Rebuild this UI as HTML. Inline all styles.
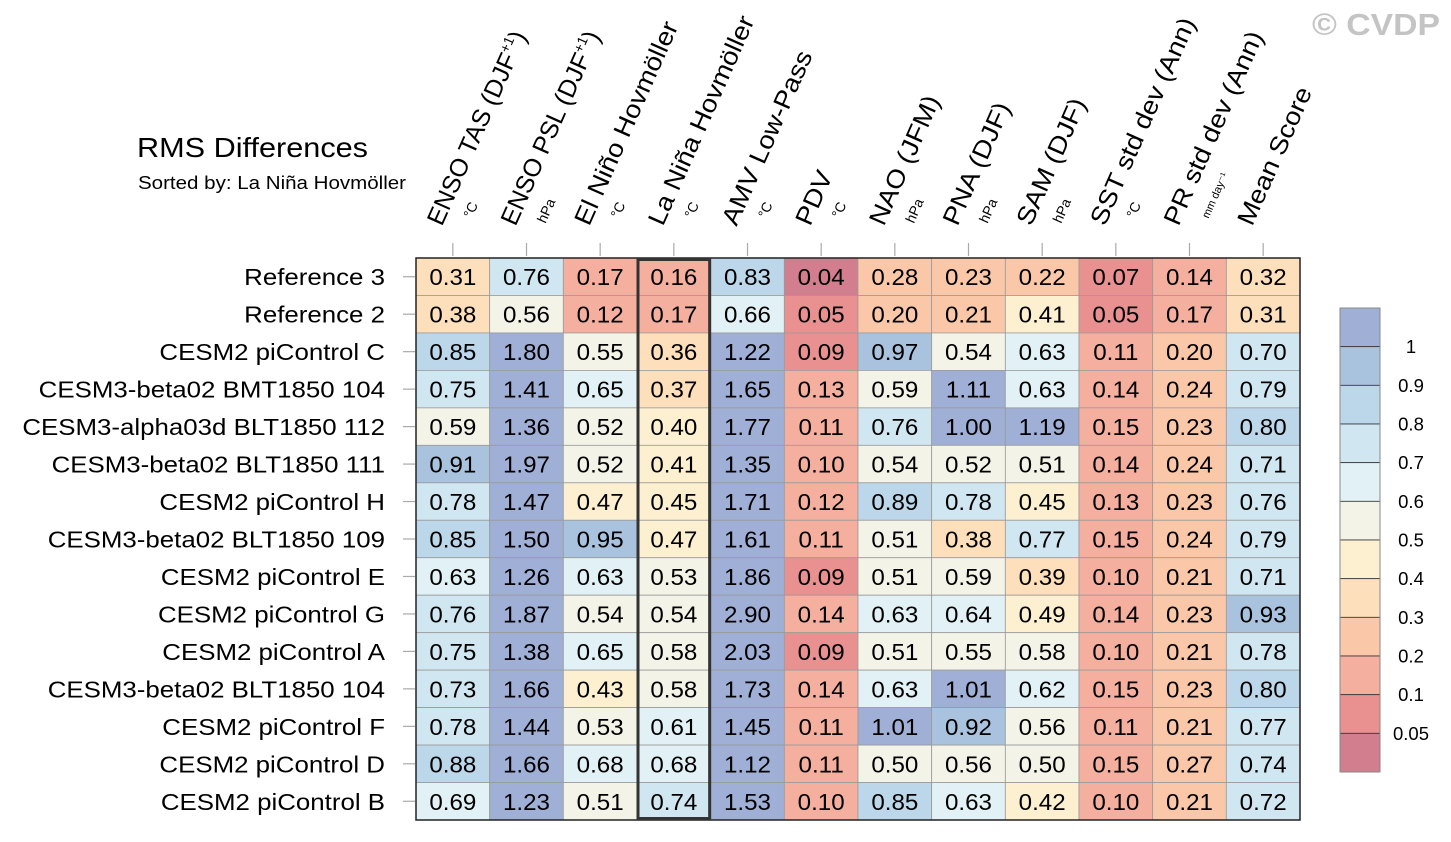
<!DOCTYPE html>
<html><head><meta charset="utf-8"><style>
html,body{margin:0;padding:0;background:#fff;}
svg{display:block;font-family:"Liberation Sans",Arial,sans-serif;}
</style></head><body>
<svg id="chart" width="1451" height="842" viewBox="0 0 1451 842">
<text x="1312" y="35" font-size="31" font-weight="bold" fill="#c4c4c4" textLength="128" lengthAdjust="spacingAndGlyphs">© CVDP</text>
<text x="137" y="157" font-size="28" fill="#000" textLength="231" lengthAdjust="spacingAndGlyphs">RMS Differences</text>
<text x="138" y="189" font-size="18" fill="#000" textLength="268" lengthAdjust="spacingAndGlyphs">Sorted by: La Niña Hovmöller</text>
<g id="cells"></g><g id="heads"></g><g id="rowlabels"></g><g id="cbar"></g>
</svg>
<script>
const columns=["ENSO TAS (DJF+1)","ENSO PSL (DJF+1)","El Niño Hovmöller","La Niña Hovmöller","AMV Low-Pass","PDV","NAO (JFM)","PNA (DJF)","SAM (DJF)","SST std dev (Ann)","PR std dev (Ann)","Mean Score"];
const units=["°C","hPa","°C","°C","°C","°C","hPa","hPa","hPa","°C","mm day⁻¹",""];
const rows=["Reference 3","Reference 2","CESM2 piControl C","CESM3-beta02 BMT1850 104","CESM3-alpha03d BLT1850 112","CESM3-beta02 BLT1850 111","CESM2 piControl H","CESM3-beta02 BLT1850 109","CESM2 piControl E","CESM2 piControl G","CESM2 piControl A","CESM3-beta02 BLT1850 104","CESM2 piControl F","CESM2 piControl D","CESM2 piControl B"];
const values=[
[0.31,0.76,0.17,0.16,0.83,0.04,0.28,0.23,0.22,0.07,0.14,0.32],
[0.38,0.56,0.12,0.17,0.66,0.05,0.20,0.21,0.41,0.05,0.17,0.31],
[0.85,1.80,0.55,0.36,1.22,0.09,0.97,0.54,0.63,0.11,0.20,0.70],
[0.75,1.41,0.65,0.37,1.65,0.13,0.59,1.11,0.63,0.14,0.24,0.79],
[0.59,1.36,0.52,0.40,1.77,0.11,0.76,1.00,1.19,0.15,0.23,0.80],
[0.91,1.97,0.52,0.41,1.35,0.10,0.54,0.52,0.51,0.14,0.24,0.71],
[0.78,1.47,0.47,0.45,1.71,0.12,0.89,0.78,0.45,0.13,0.23,0.76],
[0.85,1.50,0.95,0.47,1.61,0.11,0.51,0.38,0.77,0.15,0.24,0.79],
[0.63,1.26,0.63,0.53,1.86,0.09,0.51,0.59,0.39,0.10,0.21,0.71],
[0.76,1.87,0.54,0.54,2.90,0.14,0.63,0.64,0.49,0.14,0.23,0.93],
[0.75,1.38,0.65,0.58,2.03,0.09,0.51,0.55,0.58,0.10,0.21,0.78],
[0.73,1.66,0.43,0.58,1.73,0.14,0.63,1.01,0.62,0.15,0.23,0.80],
[0.78,1.44,0.53,0.61,1.45,0.11,1.01,0.92,0.56,0.11,0.21,0.77],
[0.88,1.66,0.68,0.68,1.12,0.11,0.50,0.56,0.50,0.15,0.27,0.74],
[0.69,1.23,0.51,0.74,1.53,0.10,0.85,0.63,0.42,0.10,0.21,0.72]];
const levels=[0.05,0.1,0.2,0.3,0.4,0.5,0.6,0.7,0.8,0.9,1];
const levelLabels=["0.05","0.1","0.2","0.3","0.4","0.5","0.6","0.7","0.8","0.9","1"];
const palette=["#d27e8e","#e89190","#f4af9f","#fac8a8","#fde0bb","#fdf0d0","#f3f3e8","#e2f1f5","#d0e6f0","#bcd7e9","#a9c3de","#9fafd5"];

const NS="http://www.w3.org/2000/svg";
function mk(tag,attrs,parent){const e=document.createElementNS(NS,tag);for(const k in attrs)e.setAttribute(k,attrs[k]);parent.appendChild(e);return e;}
function widen(t,f){const w=t.getComputedTextLength();t.setAttribute('textLength',w*f);t.setAttribute('lengthAdjust','spacingAndGlyphs');}
const X0=416,X1=1300,Y0=258,Y1=820;
const cw=(X1-X0)/columns.length, rh=(Y1-Y0)/rows.length;
const xPos=i=>X0+i*cw, yPos=j=>Y0+j*rh;
function colorFor(v){let k=0;while(k<levels.length&&v>=levels[k]-1e-9)k++;return palette[k];}

const cells=document.getElementById('cells');
values.forEach((row,j)=>row.forEach((v,i)=>{
 const r=mk('rect',{x:xPos(i),y:yPos(j),width:cw,height:rh,fill:colorFor(v),stroke:'#9a9a9a','stroke-width':0.8},cells);
 
 
 const t=mk('text',{x:xPos(i)+cw/2,y:yPos(j)+rh/2+8.5,'text-anchor':'middle','font-size':23,fill:'#000'},cells);
 t.textContent=v.toFixed(2);
 
 
 widen(t,1.05);
}));
const border=mk('rect',{x:X0,y:Y0,width:X1-X0,height:Y1-Y0,fill:'none',stroke:'#222','stroke-width':1.5},cells);


const hl=mk('rect',{x:xPos(3)+1,y:Y0+1.5,width:cw-2,height:Y1-Y0-3,fill:'none',stroke:'#333','stroke-width':3},cells);



const heads=document.getElementById('heads');
columns.forEach((c,i)=>{
 const cx=xPos(i)+cw/2;
 const tk=mk('line',{x1:cx,x2:cx,y1:243,y2:256,stroke:'#aaa','stroke-width':1.2},heads);
 
 
 const t=mk('text',{transform:`translate(${cx-11},227) rotate(-66)`,'font-size':25,fill:'#000'},heads);
 const m=c.match(/^(.*)\(DJF\+1\)$/);
 if(m){t.textContent=m[1]+'(DJF';const s=mk('tspan',{'font-size':14,dy:-10},t);s.textContent='+1';const s2=mk('tspan',{dy:10},t);s2.textContent=')';}
 else {t.textContent=c; widen(t,1.1);}
 
 
 if(units[i]){
  const u=mk('text',{transform:`translate(${cx+19},${units[i]==='hPa'?224:219}) rotate(-66)`,'font-size':units[i].startsWith('mm')?11:14,fill:'#000'},heads);
  u.textContent=units[i];
  
  
 }
});

const rl=document.getElementById('rowlabels');
rows.forEach((r,j)=>{
 const cy=yPos(j)+rh/2;
 const tk=mk('line',{x1:403,x2:415,y1:cy,y2:cy,stroke:'#aaa','stroke-width':1.2},rl);
 
 
 const t=mk('text',{x:385,y:cy+8.5,'text-anchor':'end','font-size':23.5,fill:'#000'},rl);
 t.textContent=r;
 
 
 widen(t,1.1);
});

const cb=document.getElementById('cbar');
const CB0=308,CB1=772,bh=(CB1-CB0)/palette.length;
palette.slice().reverse().forEach((col,k)=>{
 const r=mk('rect',{x:1340,y:CB0+k*bh,width:40,height:bh,fill:col,stroke:'#333','stroke-width':0.8},cb);
 
 
});
const cbo=mk('rect',{x:1340,y:CB0,width:40,height:CB1-CB0,fill:'none',stroke:'#888','stroke-width':1},cb);


levelLabels.slice().reverse().forEach((l,k)=>{
 const t=mk('text',{x:1411,y:CB0+(k+1)*bh+6.5,'text-anchor':'middle','font-size':18.5,fill:'#000'},cb);
 t.textContent=l;
 
 
});
</script>
</body></html>
